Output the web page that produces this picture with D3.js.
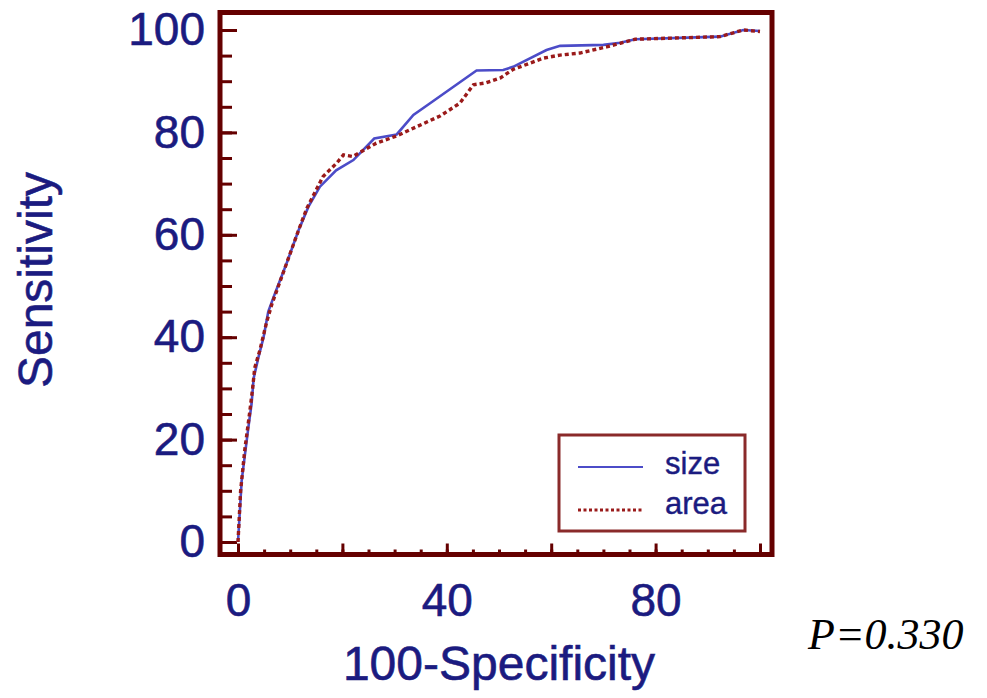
<!DOCTYPE html>
<html>
<head>
<meta charset="utf-8">
<script src="https://cdn.jsdelivr.net/npm/d3@7"></script>
<style>
    body { margin: 0; background: #ffffff; }
    svg { display: block; }
</style>
</head>
<body>
<div id="visualization"></div>
<script>
// ROC curve points for "size" (100-Specificity, Sensitivity)
const sizeX = [0, 0.7, 2, 2.6, 3, 3.9, 4.9, 5.8, 7.1, 9.3, 11.6, 13.5, 15.7, 18.8, 22.1, 26.1, 30.4,
               33.6, 36.8, 45.7, 50.8, 52.7, 59.1, 61.7, 70, 73.2, 76.1, 92.3, 96.8, 100];
const sizeY = [0, 12, 22.5, 27, 32, 36, 40, 45, 48.6, 54.4, 60.9, 65.5, 69.4, 72.6, 74.6, 78.8, 79.6,
               83.4, 85.7, 92.1, 92.2, 92.8, 96.1, 96.9, 97.1, 97.5, 98.2, 98.7, 100, 99.8];

// ROC curve points for "area"
const areaX = [0, 0.5, 1.3, 2.2, 2.8, 3.2, 4.2, 5.5, 6.5, 9.3, 11.6, 13.2, 16.3, 18.9, 20.2, 22, 26.5,
               30.4, 34.2, 38.7, 42.5, 45.1, 47.6, 50.2, 52.7, 58.5, 61.7, 65.5, 70.6, 73.2, 76.1, 92.3, 96.8, 100];
const areaY = [0, 10, 18, 25, 30, 34, 37.5, 43, 46.5, 54.4, 60.9, 65.2, 71.4, 74, 75.6, 75.3, 77.9,
               79.3, 81.1, 83.2, 85.7, 89.3, 89.7, 90.6, 92.3, 94.5, 95.1, 95.5, 96.7, 97.4, 98.2, 98.7, 100, 99.7];

// ticks and labels
const majorTicks = [0, 20, 40, 60, 80, 100];
const minorTicks = d3.range(0, 101, 5);
const xLabels = [0, 40, 80];
const yLabels = [0, 20, 40, 60, 80, 100];

const seriesNames = ["size", "area"];
const pValueText = "P=0.330";

const textColor = "#1b1b80";
const frameColor = "#650000";
const sansFont = "Liberation Sans, Arial, sans-serif";

const width = 987;
const height = 698;

const svg = d3.select("#visualization")
                .append("svg")
                    .attr("width", width)
                    .attr("height", height);

// plot frame edges
const frame = {left: 220, top: 12.5, right: 772, bottom: 554.5};

const xScale = d3.scaleLinear()
                .domain([0, 100])
                .range([238, 760]);

const yScale = d3.scaleLinear()
                .domain([0, 100])
                .range([542, 30]);

// y ticks point inwards from the left edge
svg.append("g")
    .attr("transform", "translate(" + frame.left + ",0)")
    .call(d3.axisRight(yScale).tickValues(minorTicks).tickSize(12).tickFormat(""))
    .call(g => g.select(".domain").remove())
    .call(g => g.selectAll("line").attr("stroke", frameColor).attr("stroke-width", 3));

svg.append("g")
    .attr("transform", "translate(" + frame.left + ",0)")
    .call(d3.axisRight(yScale).tickValues(majorTicks).tickSize(17).tickFormat(""))
    .call(g => g.select(".domain").remove())
    .call(g => g.selectAll("line").attr("stroke", frameColor).attr("stroke-width", 3));

// x ticks point upwards from the bottom edge
svg.append("g")
    .attr("transform", "translate(0," + frame.bottom + ")")
    .call(d3.axisTop(xScale).tickValues(minorTicks).tickSize(5).tickFormat(""))
    .call(g => g.select(".domain").remove())
    .call(g => g.selectAll("line").attr("stroke", frameColor).attr("stroke-width", 3));

svg.append("g")
    .attr("transform", "translate(0," + frame.bottom + ")")
    .call(d3.axisTop(xScale).tickValues(majorTicks).tickSize(11).tickFormat(""))
    .call(g => g.select(".domain").remove())
    .call(g => g.selectAll("line").attr("stroke", frameColor).attr("stroke-width", 3));

// tick labels
svg.append("g")
    .attr("transform", "translate(" + frame.left + ",0)")
    .call(d3.axisLeft(yScale).tickValues(yLabels).tickSize(0).tickPadding(15))
    .call(g => g.select(".domain").remove())
    .call(g => g.selectAll("text")
                .attr("fill", textColor)
                .attr("stroke", textColor)
                .attr("stroke-width", 0.6)
                .attr("font-family", sansFont)
                .attr("font-size", "46px"));

svg.append("g")
    .attr("transform", "translate(0," + frame.bottom + ")")
    .call(d3.axisBottom(xScale).tickValues(xLabels).tickSize(0).tickPadding(29))
    .call(g => g.select(".domain").remove())
    .call(g => g.selectAll("text")
                .attr("fill", textColor)
                .attr("stroke", textColor)
                .attr("stroke-width", 0.6)
                .attr("font-family", sansFont)
                .attr("font-size", "46px"));

// the curves
const sizeData = sizeX.map((x, i) => [x, sizeY[i]]);
const areaData = areaX.map((x, i) => [x, areaY[i]]);

const line = d3.line()
                .x(d => xScale(d[0]))
                .y(d => yScale(d[1]));

svg.append("path")
    .datum(sizeData)
    .attr("fill", "none")
    .attr("stroke", "#4c4cc8")
    .attr("stroke-width", 2.6)
    .attr("d", line);

svg.append("path")
    .datum(areaData)
    .attr("fill", "none")
    .attr("stroke", "#9a1a1a")
    .attr("stroke-width", 3.4)
    .attr("stroke-dasharray", "4,3")
    .attr("d", line);

// frame drawn last so it sits on top
svg.append("rect")
    .attr("x", frame.left)
    .attr("y", frame.top)
    .attr("width", frame.right - frame.left)
    .attr("height", frame.bottom - frame.top)
    .attr("fill", "none")
    .attr("stroke", frameColor)
    .attr("stroke-width", 5);

// legend
const legend = svg.append("g");

legend.append("rect")
    .attr("x", 559)
    .attr("y", 435)
    .attr("width", 186)
    .attr("height", 96)
    .attr("fill", "#ffffff")
    .attr("stroke", "#8a2a2a")
    .attr("stroke-width", 3);

legend.append("line")
    .attr("x1", 578).attr("x2", 643)
    .attr("y1", 467).attr("y2", 467)
    .attr("stroke", "#4c4cc8")
    .attr("stroke-width", 2.2);

legend.append("line")
    .attr("x1", 578).attr("x2", 643)
    .attr("y1", 510).attr("y2", 510)
    .attr("stroke", "#9a1a1a")
    .attr("stroke-width", 2.8)
    .attr("stroke-dasharray", "3,2.5");

legend.selectAll("text")
    .data(seriesNames)
    .enter()
    .append("text")
        .attr("x", 665)
        .attr("y", (d, i) => 474 + i * 40)
        .attr("fill", textColor)
        .attr("stroke", textColor)
        .attr("stroke-width", 0.4)
        .attr("font-family", sansFont)
        .attr("font-size", "31px")
        .text(d => d);

// axis titles
svg.append("text")
    .attr("x", 499)
    .attr("y", 680)
    .attr("text-anchor", "middle")
    .attr("fill", textColor)
    .attr("stroke", textColor)
    .attr("stroke-width", 0.6)
    .attr("font-family", sansFont)
    .attr("font-size", "48px")
    .text("100-Specificity");

svg.append("text")
    .attr("transform", "rotate(-90)")
    .attr("x", -280)
    .attr("y", 52)
    .attr("text-anchor", "middle")
    .attr("fill", textColor)
    .attr("stroke", textColor)
    .attr("stroke-width", 0.6)
    .attr("font-family", sansFont)
    .attr("font-size", "48px")
    .text("Sensitivity");

// p value note
svg.append("text")
    .attr("x", 808)
    .attr("y", 649)
    .attr("fill", "#000000")
    .attr("font-family", "Liberation Serif, Times New Roman, serif")
    .attr("font-style", "italic")
    .attr("font-size", "44px")
    .text(pValueText);
</script>
</body>
</html>
